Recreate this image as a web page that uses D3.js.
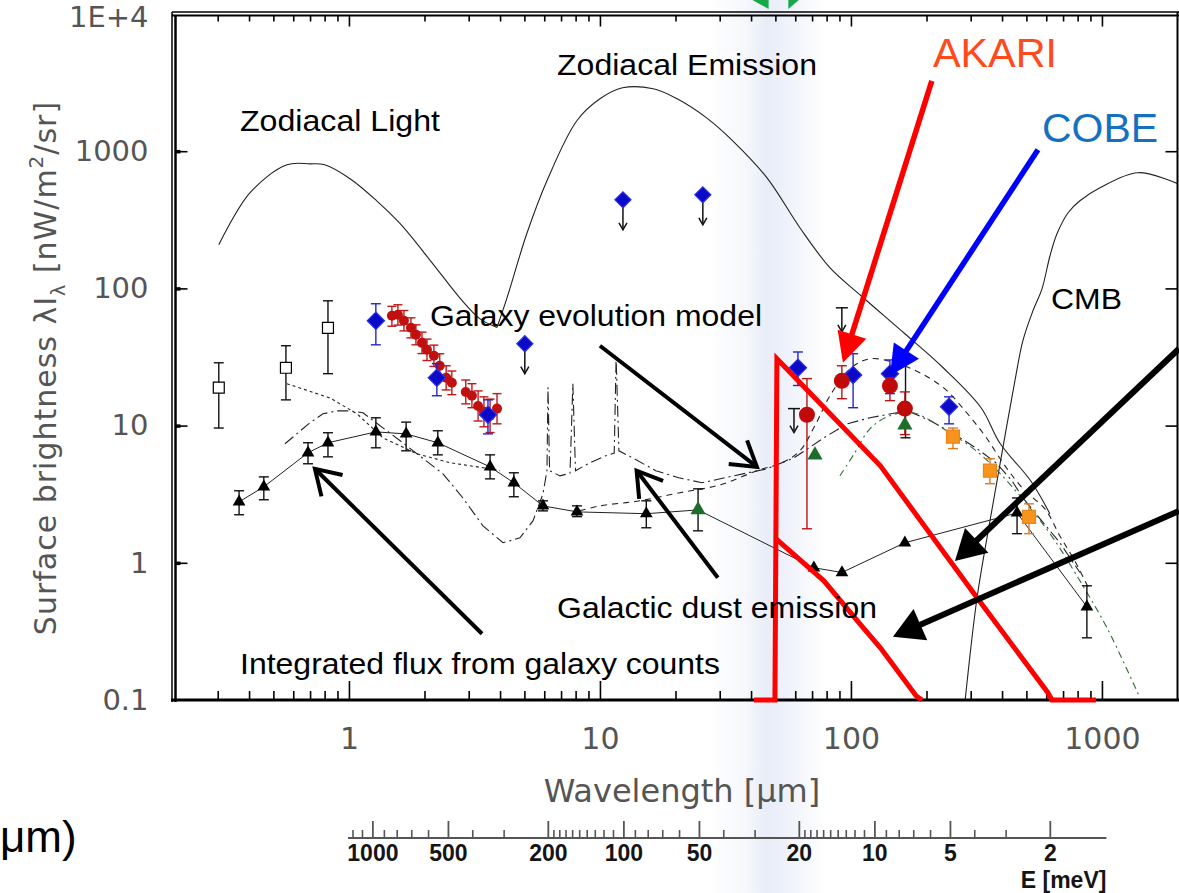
<!DOCTYPE html>
<html>
<head>
<meta charset="utf-8">
<script src="https://cdn.jsdelivr.net/npm/d3@7/dist/d3.min.js"></script>
<style>
  html, body { margin: 0; padding: 0; background: #fff; }
  svg { display: block; }
</style>
</head>
<body>
<svg id="chart" width="1179" height="893"></svg>
<script>
// ---------- axis ticks ----------
const yTickValues = [0.1, 1, 10, 100, 1000, 10000];
const yFrameTicks = [1, 10, 100, 1000];
const xLabelValues = [1, 10, 100, 1000];
const xMinorTicks = [0.3, 0.4, 0.5, 0.6, 0.7, 0.8, 0.9, 2, 3, 4, 5, 6, 7, 8, 9,
  20, 30, 40, 50, 60, 70, 80, 90, 200, 300, 400, 500, 600, 700, 800, 900];
const energyMajor = [1000, 500, 200, 100, 50, 20, 10, 5, 2];
const energyMinor = [1200, 1100, 900, 800, 700, 600, 400, 300,
  190, 180, 170, 160, 150, 140, 130, 120, 110, 90, 80, 70, 60, 40, 30,
  19, 18, 17, 16, 15, 14, 13, 12, 11, 9, 8, 7, 6, 4, 3];

// ---------- foreground / model curves: [wavelength μm, λIλ nW m^-2 sr^-1] ----------
const zodiacalLight = [[0.303, 208], [0.403, 497], [0.566, 796], [0.70, 809], [0.80, 796],
  [1.01, 630], [1.29, 435], [1.60, 296], [2.16, 151], [2.77, 85], [3.33, 60], [3.89, 52]];
const zodiacalEmission = [[3.89, 52], [4.26, 85], [5.11, 250], [6.15, 609], [8.09, 1667],
  [10.0, 2410], [12.3, 2898], [16.3, 2850], [20.3, 2410], [26.6, 1750], [33.8, 1191],
  [46.3, 640], [62.6, 277], [82.6, 141], [110, 88], [164, 46.7], [233, 26.4], [330, 13.5],
  [393, 7.4], [520, 3.96], [620, 2.28]];
const cmb = [[285, 0.099], [318, 0.556], [358, 2.02], [403, 6.89], [450, 21.2], [484, 41.5],
  [531, 68.7], [577, 99.3], [621, 173], [662, 250], [733, 356], [817, 435], [982, 541],
  [1390, 697], [2010, 579]];
const dustEmission = [[0.556, 7.37], [0.70, 10.5], [0.788, 12.2], [0.896, 12.8], [1.01, 12.8],
  [1.137, 12.4], [1.6, 7.75], [2.37, 4.45], [2.84, 2.98], [3.42, 1.86], [4.11, 1.40],
  [4.80, 1.52], [5.41, 2.02], [5.93, 3.18], [6.15, 4.69], [6.21, 19.0], [6.30, 4.69],
  [6.93, 4.3], [7.6, 4.5], [7.80, 20.2], [7.99, 4.69], [9.12, 5.36], [10.47, 6.0],
  [11.4, 6.3], [11.6, 31.2], [11.9, 6.55], [13.5, 5.82], [16.7, 4.69], [20.6, 4.17],
  [25.5, 3.83], [31.5, 4.17], [38.9, 4.53], [46.3, 4.84], [59.3, 5.82], [68.1, 6.89],
  [78.0, 8.15], [96.4, 10.3], [119, 11.4], [152, 12.4], [175, 12.4], [208, 10.8],
  [257, 8.71], [318, 6.78], [378, 5.36], [438, 3.96], [484, 2.98], [566, 2.1],
  [680, 1.4], [817, 0.85]];
const dustEmissionFIR = [[90.4, 4.31], [103.7, 6.34], [119, 9.48], [143, 11.8], [176.6, 12.4],
  [241, 9.17], [326, 6.23], [418, 3.96], [516, 2.52], [638, 1.52], [817, 0.739],
  [1047, 0.336], [1416, 0.104]];
const galaxyEvolution = [[8.32, 2.4], [10, 2.6], [14.4, 2.83], [20.8, 3.24], [30.1, 3.70],
  [42.2, 4.69], [53.1, 5.36], [62.6, 6.55], [71.9, 10.0], [82.5, 16.5], [99.1, 25.9],
  [119, 30.7], [150, 28.7], [188, 24.3], [237, 18.5], [285, 12.8], [342, 8.43],
  [411, 5.09], [493, 3.35], [593, 2.47], [680, 1.57], [780, 1.03], [896, 0.625]];
const galaxyEvolutionOptical = [[0.566, 20.2], [0.84, 15.9], [1.076, 12.2], [1.366, 8.15],
  [1.866, 6.23], [2.53, 5.36], [3.42, 4.93], [4.0, 4.69]];

// AKARI sensitivity outlines
const akariUpper = [[41.1, 0.1], [49.8, 0.1], [50.7, 30.7], [131, 5.09], [318, 0.556],
  [609, 0.113], [632, 0.1], [946, 0.1]];
const akariLower = [[50.2, 1.50], [78.0, 0.739], [112, 0.336], [131, 0.24], [182, 0.107], [192, 0.1]];

// ---------- measurements: [λ, value, low, high] ----------
const galaxyCounts = [[0.365, 2.78, 2.24, 3.35], [0.458, 3.58, 2.88, 4.23], [0.687, 6.34, 5.27, 7.5],
  [0.825, 7.5, 5.92, 8.87], [1.28, 9.0, 6.89, 11.4], [1.69, 8.7, 6.55, 10.6],
  [2.26, 7.5, 6.12, 9.17], [3.65, 5.0, 4.09, 6.12], [4.54, 3.83, 3.03, 4.53],
  [5.93, 2.6, 2.39, 2.83], [8.1, 2.35, 2.17, 2.6], [15.3, 2.28, 1.8, 2.83],
  [24.6, 2.43, 1.71, 3.46], [71.2, 0.92, null, null], [92.1, 0.85, null, null],
  [164, 1.4, null, null], [459, 2.31, 1.63, 2.97], [871, 0.478, 0.284, 0.68]];
const opticalOpen = [[0.303, 18.9, 9.6, 28.7], [0.561, 26.4, 15.4, 38.2], [0.825, 51.6, 23.9, 81.2]];
const dirbe = [[1.28, 58, 38.8, 77.3], [2.24, 22.3, 16.5, 28.3], [3.58, 12, 8.7, 15.4],
  [61.5, 26.4, 19.6, 34.4], [102, 23.4, 13.5, 33.4], [143, 23.9, 17.1, 30.1], [246, 13.7, 10.3, 16.2]];
const dirbeLimits = [[5.02, 39.5], [12.35, 442], [25.7, 481]];
const nearIR = [[1.483, 63.1, 53, 74], [1.567, 64.2, 54, 76], [1.656, 58.1, 49, 69],
  [1.766, 51.6, 43.6, 61], [1.849, 45.9, 38.8, 54.3], [1.954, 40.1, 33.5, 48],
  [2.046, 35.7, 29.8, 42.7], [2.18, 32.3, 27, 38.6], [2.30, 27.3, 22.3, 33.4],
  [2.44, 22.3, 18.2, 27.3], [2.57, 20.5, 16.8, 25], [2.92, 17.6, 14.4, 21.5],
  [3.09, 16.5, 13.5, 20.2], [3.27, 13.9, 10.8, 17.9], [3.45, 12.6, 9.8, 16.2],
  [3.65, 11.8, 8.9, 15.6], [3.89, 13.3, 10.3, 17.1]];
const farIR = [[66.8, 12, 1.77, 22], [92, 21.2, 15.7, 27.3], [143, 19.5, 15.2, 22.3], [164, 13.3, 8.6, 17.6]];
const farIRBars = [[165, 8.15, 29.7]];
const upperLimits = [[59.3, 13.3], [92, 72.2]];
const greenPoints = [[24.6, 2.43], [71.9, 6.1], [164, 10.1]];
const submm = [[255, 8.3, 6.8, 9.6], [358, 4.69, 3.77, 5.73], [512, 2.16, 1.63, 2.69]];

// ---------- annotation arrows: from / to in [λ, value] ----------
const arrowGalaxyModel = [[10, 38.2], [42.2, 5.0]];
const arrowDust = [[29.5, 0.778], [14.0, 4.69]];
const arrowCounts = [[3.39, 0.304], [0.732, 4.84]];
const arrowRight1 = [[2027, 36.3], [259.6, 1.03]];
const arrowRight2 = [[2027, 2.39], [147, 0.289]];
const arrowAkari = [[210, 3258], [92.9, 28.7]];
const arrowCobe = [[556, 1024], [143, 23.1]];
const bandRange = [27, 80]; // μm

// ---------- scales ----------
const HC = 1239.84; // meV·μm
const x = d3.scaleLog().domain([0.2, 2000]).range([173.5, 1177.5]);
const y = d3.scaleLog().domain([0.1, 1e4]).range([700, 14]);
const e = d3.scaleLog().domain([HC / 0.2, HC / 2000]).range([173.5, 1177.5]);

const svg = d3.select('#chart');
const defs = svg.append('defs');

const grad = defs.append('linearGradient').attr('id', 'band').attr('x1', 0).attr('x2', 1).attr('y1', 0).attr('y2', 0);
[[0, 0], [0.3, 0.4], [0.5, 1], [0.62, 0.8], [1, 0]].forEach(s =>
  grad.append('stop').attr('offset', s[0]).attr('stop-color', '#e9edf8').attr('stop-opacity', s[1]));

defs.append('clipPath').attr('id', 'plot').append('rect')
  .attr('x', 175).attr('y', 16).attr('width', 1002).attr('height', 684);

// highlighted wavelength band
svg.append('rect').attr('x', x(bandRange[0])).attr('y', 0)
  .attr('width', x(bandRange[1]) - x(bandRange[0])).attr('height', 893)
  .attr('fill', 'url(#band)');

// green markers at the top edge
svg.append('path').attr('d', `M${x(40.5)},0 L${x(47)},0 L${x(47)},9 Z`).attr('fill', '#18a84a');
svg.append('path').attr('d', `M${x(56.3)},0 L${x(62)},0 L${x(56.3)},9 Z`).attr('fill', '#18a84a');

// ---------- model curves ----------
const line = d3.line().x(d => x(d[0])).y(d => y(d[1]));
const smooth = d3.line().x(d => x(d[0])).y(d => y(d[1])).curve(d3.curveCatmullRom);
const models = svg.append('g').attr('clip-path', 'url(#plot)').attr('fill', 'none');

models.append('path').attr('d', smooth(zodiacalLight)).attr('stroke', '#222').attr('stroke-width', 1.1);
models.append('path').attr('d', smooth(zodiacalEmission)).attr('stroke', '#222').attr('stroke-width', 1.1);
models.append('path').attr('d', smooth(cmb)).attr('stroke', '#222').attr('stroke-width', 1.1);
models.append('path').attr('d', line(dustEmission)).attr('stroke', '#222').attr('stroke-width', 1.1)
  .attr('stroke-dasharray', '11,4,2,4');
models.append('path').attr('d', smooth(dustEmissionFIR)).attr('stroke', '#2f6b3a').attr('stroke-width', 1.1)
  .attr('stroke-dasharray', '7,4,2,4');
models.append('path').attr('d', smooth(galaxyEvolution)).attr('stroke', '#222').attr('stroke-width', 1.1)
  .attr('stroke-dasharray', '6,5');
models.append('path').attr('d', line(galaxyEvolutionOptical)).attr('stroke', '#222').attr('stroke-width', 1.1)
  .attr('stroke-dasharray', '3,3');

// ---------- frame and axes ----------
const frame = svg.append('g');
frame.append('line').attr('x1', 172).attr('x2', 1179).attr('y1', 12).attr('y2', 12).attr('stroke', '#000').attr('stroke-width', 1.5);
frame.append('line').attr('x1', 172).attr('x2', 1179).attr('y1', 15.5).attr('y2', 15.5).attr('stroke', '#000').attr('stroke-width', 2.2);
frame.append('line').attr('x1', 172).attr('x2', 172).attr('y1', 12).attr('y2', 702).attr('stroke', '#000').attr('stroke-width', 1.5);
frame.append('line').attr('x1', 175.5).attr('x2', 175.5).attr('y1', 15).attr('y2', 702).attr('stroke', '#000').attr('stroke-width', 2.5);
frame.append('line').attr('x1', 171).attr('x2', 1179).attr('y1', 700).attr('y2', 700).attr('stroke', '#000').attr('stroke-width', 3);
frame.append('line').attr('x1', 1177.5).attr('x2', 1177.5).attr('y1', 12).attr('y2', 701).attr('stroke', '#000').attr('stroke-width', 2);

function styleAxis(g) {
  g.select('.domain').remove();
  g.selectAll('.tick line').attr('stroke', '#000').attr('stroke-width', 1.6);
}
const tickFont = 'DejaVu Sans, Verdana, sans-serif';

svg.append('g').attr('transform', 'translate(0,15.5)')
  .call(d3.axisTop(x).tickValues(xMinorTicks).tickSize(-6).tickFormat('')).call(styleAxis);
svg.append('g').attr('transform', 'translate(0,15.5)')
  .call(d3.axisTop(x).tickValues(xLabelValues).tickSize(-11).tickFormat('')).call(styleAxis);
svg.append('g').attr('transform', 'translate(0,700)')
  .call(d3.axisBottom(x).tickValues(xMinorTicks).tickSize(-9).tickFormat('')).call(styleAxis);
const xLab = svg.append('g').attr('transform', 'translate(0,700)')
  .call(d3.axisBottom(x).tickValues(xLabelValues).tickSize(-19).tickPadding(28).tickFormat(d => String(d)))
  .call(styleAxis);
xLab.selectAll('text').attr('font-family', tickFont).attr('font-size', 30).attr('fill', '#555');

const yLab = svg.append('g').attr('transform', 'translate(175.5,0)')
  .call(d3.axisLeft(y).tickValues(yTickValues).tickSize(-12).tickPadding(27)
    .tickFormat(d => d >= 1e4 ? '1E+4' : (d < 1 ? '0.1' : String(d))))
  .call(styleAxis);
yLab.selectAll('.tick').filter(d => d === 0.1 || d === 1e4).select('line').remove();
yLab.selectAll('text').attr('font-family', tickFont).attr('font-size', 29).attr('fill', '#555');
yLab.selectAll('.tick').filter(d => d === 1e4).select('text').attr('dy', '0.42em');
yLab.selectAll('.tick').append('line').attr('x2', 5).attr('stroke', '#000').attr('stroke-width', 3.5)
  .filter(d => d === 0.1 || d === 1e4).remove();

svg.append('g').attr('transform', 'translate(1177.5,0)')
  .call(d3.axisRight(y).tickValues(yFrameTicks).tickSize(-12).tickFormat('')).call(styleAxis);

// axis titles
svg.append('text').attr('x', 682).attr('y', 802).attr('text-anchor', 'middle')
  .attr('font-family', tickFont).attr('font-size', 32).attr('fill', '#555')
  .text('Wavelength [\u03bcm]');

const yTitle = svg.append('text').attr('transform', 'translate(56,368) rotate(-90)')
  .attr('text-anchor', 'middle').attr('font-family', tickFont).attr('font-size', 30)
  .attr('letter-spacing', 1).attr('fill', '#555');
yTitle.append('tspan').text('Surface brightness \u03bbI');
yTitle.append('tspan').attr('font-size', 19).attr('dy', 9).text('\u03bb');
yTitle.append('tspan').attr('dy', -9).text(' [nW/m');
yTitle.append('tspan').attr('font-size', 20).attr('dy', -13).text('2');
yTitle.append('tspan').attr('dy', 13).text('/sr]');

// ---------- energy axis ----------
const eFont = 'Liberation Sans, Arial, sans-serif';
const eAxis = svg.append('g').attr('transform', 'translate(0,838)');
eAxis.append('line').attr('x1', e(1250)).attr('x2', e(1.19)).attr('y1', 0).attr('y2', 0)
  .attr('stroke', '#555').attr('stroke-width', 1.8);
eAxis.append('g').call(d3.axisBottom(e).tickValues(energyMinor).tickSize(-8).tickFormat(''))
  .call(g => { g.select('.domain').remove(); g.selectAll('line').attr('stroke', '#555').attr('stroke-width', 1.6); });
eAxis.append('g').call(d3.axisBottom(e).tickValues(energyMajor).tickSize(-17).tickPadding(7).tickFormat(d => String(d)))
  .call(g => {
    g.select('.domain').remove();
    g.selectAll('line').attr('stroke', '#555').attr('stroke-width', 1.8);
    g.selectAll('text').attr('font-family', eFont).attr('font-weight', 'bold')
      .attr('font-size', 23).attr('fill', '#151515');
  });
svg.append('text').attr('x', e(1.19)).attr('y', 888).attr('text-anchor', 'end')
  .attr('font-family', eFont).attr('font-weight', 'bold')
  .attr('font-size', 23).attr('fill', '#151515').text('E [meV]');

// ---------- measurements ----------
const marks = svg.append('g');

function errorBars(data, color, cap, width) {
  const g = marks.append('g').attr('stroke', color).attr('stroke-width', width || 1.4);
  data.filter(d => d[2] != null).forEach(d => {
    const cx = x(d[0]);
    g.append('line').attr('x1', cx).attr('x2', cx).attr('y1', y(d[2])).attr('y2', y(d[3]));
    g.append('line').attr('x1', cx - cap / 2).attr('x2', cx + cap / 2).attr('y1', y(d[2])).attr('y2', y(d[2]));
    g.append('line').attr('x1', cx - cap / 2).attr('x2', cx + cap / 2).attr('y1', y(d[3])).attr('y2', y(d[3]));
  });
}
function symbols(data, type, size, fill, stroke, rot) {
  marks.append('g').selectAll('path').data(data).join('path')
    .attr('d', d3.symbol().type(type).size(size))
    .attr('transform', d => `translate(${x(d[0])},${y(d[1])}) rotate(${rot || 0})`)
    .attr('fill', fill).attr('stroke', stroke || 'none').attr('stroke-width', 1.2);
}
function downArrow(px, py0, len, color) {
  const g = marks.append('g').attr('stroke', color).attr('stroke-width', 1.5).attr('fill', 'none');
  g.append('line').attr('x1', px).attr('x2', px).attr('y1', py0).attr('y2', py0 + len);
  g.append('path').attr('d', `M${px - 4},${py0 + len - 7} L${px},${py0 + len} L${px + 4},${py0 + len - 7}`);
}

// galaxy counts: connecting line, error bars, triangles
marks.append('path').attr('d', line(galaxyCounts)).attr('fill', 'none').attr('stroke', '#222').attr('stroke-width', 1);
errorBars(galaxyCounts, '#111', 10, 1.4);
symbols(galaxyCounts, d3.symbolTriangle, 70, '#000');

// optical open squares
errorBars(opticalOpen, '#111', 10, 1.4);
symbols(opticalOpen, d3.symbolSquare, 120, '#fff', '#000');

// far-IR black bars and upper limits
errorBars(farIRBars.map(d => [d[0], null, d[1], d[2]]), '#111', 10, 1.4);
upperLimits.forEach(d => {
  const px = x(d[0]), py = y(d[1]);
  marks.append('line').attr('x1', px - 6).attr('x2', px + 6).attr('y1', py).attr('y2', py)
    .attr('stroke', '#111').attr('stroke-width', 1.5);
  downArrow(px, py, 24, '#111');
});

// near-IR red points
errorBars(nearIR, '#c01818', 9, 1.4);
marks.append('g').selectAll('circle').data(nearIR).join('circle')
  .attr('cx', d => x(d[0])).attr('cy', d => y(d[1])).attr('r', 5).attr('fill', '#c01010');

// DIRBE diamonds
errorBars(dirbe, '#2525c8', 10, 1.4);
symbols(dirbe, d3.symbolSquare, 150, '#0a0ac8', '#3030e0', 45);
dirbeLimits.forEach(d => downArrow(x(d[0]), y(d[1]) + 6, 24, '#111'));
symbols(dirbeLimits, d3.symbolSquare, 130, '#0a0ac8', '#3030e0', 45);

// far-IR red circles
errorBars(farIR, '#b81414', 10, 1.4);
marks.append('g').selectAll('circle').data(farIR).join('circle')
  .attr('cx', d => x(d[0])).attr('cy', d => y(d[1])).attr('r', 8).attr('fill', '#c00a0a');

// green triangles
symbols(greenPoints, d3.symbolTriangle, 100, '#1d6e2c');

// orange squares
errorBars(submm, '#e07a20', 10, 1.4);
symbols(submm, d3.symbolSquare, 170, '#f7941d', '#e8851a');

// ---------- AKARI outlines ----------
const red = svg.append('g').attr('fill', 'none').attr('stroke', '#ff0000').attr('stroke-width', 5)
  .attr('stroke-linejoin', 'miter');
red.append('path').attr('d', line(akariUpper));
red.append('path').attr('d', line(akariLower));

// ---------- annotation arrows ----------
const ann = svg.append('g');
function arrow(pair, color, width, headLen, headW, open) {
  const p0 = [x(pair[0][0]), y(pair[0][1])], p1 = [x(pair[1][0]), y(pair[1][1])];
  const dx = p1[0] - p0[0], dy = p1[1] - p0[1], L = Math.hypot(dx, dy);
  const ux = dx / L, uy = dy / L, hw = headW / 2;
  const base = [p1[0] - ux * headLen, p1[1] - uy * headLen];
  const left = [base[0] - uy * hw, base[1] + ux * hw], right = [base[0] + uy * hw, base[1] - ux * hw];
  if (open) {
    ann.append('line').attr('x1', p0[0]).attr('y1', p0[1]).attr('x2', p1[0] - ux * 2).attr('y2', p1[1] - uy * 2)
      .attr('stroke', color).attr('stroke-width', width);
    ann.append('path').attr('d', `M${left[0]},${left[1]} L${p1[0]},${p1[1]} L${right[0]},${right[1]}`)
      .attr('fill', 'none').attr('stroke', color).attr('stroke-width', width).attr('stroke-linejoin', 'miter');
  } else {
    ann.append('line').attr('x1', p0[0]).attr('y1', p0[1]).attr('x2', base[0] + ux * 2).attr('y2', base[1] + uy * 2)
      .attr('stroke', color).attr('stroke-width', width);
    ann.append('path').attr('d', `M${p1[0]},${p1[1]} L${left[0]},${left[1]} L${right[0]},${right[1]} Z`)
      .attr('fill', color);
  }
}
arrow(arrowGalaxyModel, '#000', 4, 24, 30, true);
arrow(arrowDust, '#000', 4, 24, 30, true);
arrow(arrowCounts, '#000', 4, 24, 30, true);
arrow(arrowRight1, '#000', 6, 30, 34, false);
arrow(arrowRight2, '#000', 6, 30, 34, false);
arrow(arrowAkari, '#ff0000', 5.5, 30, 30, false);
arrow(arrowCobe, '#0000ff', 5.5, 30, 30, false);

// ---------- labels ----------
const sans = 'Liberation Sans, Arial, Helvetica, sans-serif';
const labels = [
  { t: 'Zodiacal Light', x: 240, y: 131, w: 200 },
  { t: 'Zodiacal Emission', x: 557, y: 75, w: 260 },
  { t: 'Galaxy evolution model', x: 430, y: 326, w: 332 },
  { t: 'Galactic dust emission', x: 557, y: 618, w: 320 },
  { t: 'Integrated flux from galaxy counts', x: 240, y: 674, w: 480 },
  { t: 'CMB', x: 1051, y: 309, w: 71 }
];
svg.append('g').selectAll('text').data(labels).join('text')
  .attr('x', d => d.x).attr('y', d => d.y).attr('textLength', d => d.w).attr('lengthAdjust', 'spacingAndGlyphs')
  .attr('font-family', sans).attr('font-size', 29).attr('fill', '#000').text(d => d.t);

svg.append('text').attr('x', 933).attr('y', 67).attr('textLength', 124).attr('lengthAdjust', 'spacingAndGlyphs')
  .attr('font-family', sans).attr('font-size', 40).attr('fill', '#ff4a1c').text('AKARI');
svg.append('text').attr('x', 1042).attr('y', 142).attr('textLength', 116).attr('lengthAdjust', 'spacingAndGlyphs')
  .attr('font-family', sans).attr('font-size', 40).attr('fill', '#1571bf').text('COBE');

svg.append('text').attr('x', 0).attr('y', 852).attr('font-family', sans).attr('font-size', 44)
  .attr('fill', '#000').text('\u03bcm)');
</script>
</body>
</html>
